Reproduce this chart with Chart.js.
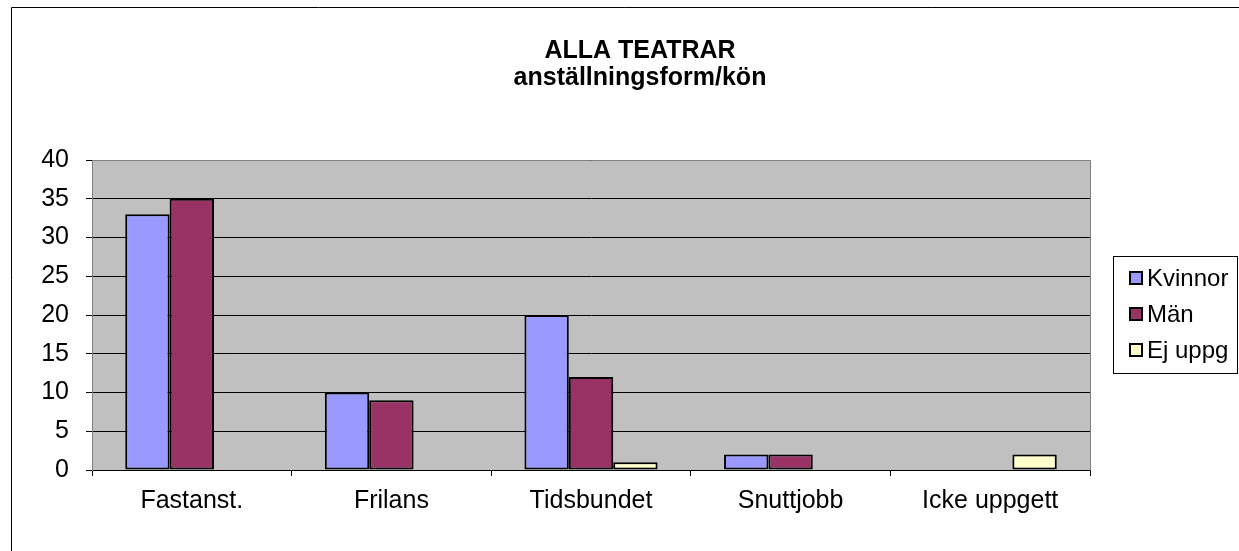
<!DOCTYPE html>
<html>
<head>
<meta charset="utf-8">
<script src="https://cdn.jsdelivr.net/npm/chart.js@4.4.1/dist/chart.umd.min.js"></script>
<style>
  html, body { margin: 0; padding: 0; background: #ffffff; }
  #wrap { position: relative; width: 1239px; height: 551px; }
</style>
</head>
<body>
<div id="wrap"><canvas id="c" width="1239" height="551"></canvas></div>
<script>
const categories = ['Fastanst.', 'Frilans', 'Tidsbundet', 'Snuttjobb', 'Icke uppgett'];
const kvinnor = [33, 10, 20, 2, null];
const man = [35, 9, 12, 2, null];
const ejUppg = [null, null, 1, null, 2];
const seriesNames = ['Kvinnor', 'Män', 'Ej uppg'];
const seriesColors = ['#9999FF', '#993366', '#FFFFCC'];
const yTicks = [0, 5, 10, 15, 20, 25, 30, 35, 40];
const titleLines = ['ALLA TEATRAR', 'anställningsform/kön'];

const FONT = "Arial, 'Liberation Sans', sans-serif";

const decor = {
  id: 'decor',
  beforeDraw(chart) {
    const { ctx, chartArea: a } = chart;
    ctx.save();
    ctx.fillStyle = '#ffffff';
    ctx.fillRect(0, 0, chart.width, chart.height);
    ctx.fillStyle = '#C0C0C0';
    ctx.fillRect(a.left, a.top, a.right - a.left, a.bottom - a.top);
    ctx.restore();
  },
  afterDraw(chart) {
    const { ctx, chartArea: a } = chart;
    ctx.save();
    // plot area border (top/right)
    ctx.strokeStyle = '#808080';
    ctx.lineWidth = 1;
    ctx.beginPath();
    ctx.moveTo(Math.round(a.left) + 0.5, Math.round(a.top) + 0.5);
    ctx.lineTo(Math.round(a.right) + 0.5, Math.round(a.top) + 0.5);
    ctx.lineTo(Math.round(a.right) + 0.5, Math.round(a.bottom) + 0.5);
    ctx.stroke();
    // outer frame
    ctx.strokeStyle = '#000000';
    ctx.beginPath();
    ctx.moveTo(11.5, chart.height);
    ctx.lineTo(11.5, 7.5);
    ctx.lineTo(chart.width, 7.5);
    ctx.stroke();
    // title
    ctx.fillStyle = '#000000';
    ctx.font = 'bold 25px ' + FONT;
    ctx.textAlign = 'center';
    ctx.textBaseline = 'alphabetic';
    ctx.fillText(titleLines[0], 640, 58);
    ctx.fillText(titleLines[1], 640, 85);
    // legend
    const lx = 1113, ly = 256, lw = 124, lh = 117;
    ctx.strokeStyle = '#000000';
    ctx.strokeRect(lx + 0.5, ly + 0.5, lw, lh);
    ctx.font = '24px ' + FONT;
    ctx.textAlign = 'left';
    ctx.textBaseline = 'middle';
    chart.data.datasets.forEach((ds, i) => {
      const cy = 278 + i * 36;
      ctx.fillStyle = ds.backgroundColor;
      ctx.fillRect(1130, cy - 6, 12, 12);
      ctx.strokeStyle = '#000000';
      ctx.lineWidth = 2;
      ctx.strokeRect(1130, cy - 6, 12, 12);
      ctx.lineWidth = 1;
      ctx.fillStyle = '#000000';
      ctx.fillText(ds.label, 1147, cy + 1);
    });
    ctx.restore();
  }
};

new Chart(document.getElementById('c'), {
  type: 'bar',
  data: {
    labels: categories,
    datasets: [
      { label: seriesNames[0], data: kvinnor, backgroundColor: seriesColors[0] },
      { label: seriesNames[1], data: man, backgroundColor: seriesColors[1] },
      { label: seriesNames[2], data: ejUppg, backgroundColor: seriesColors[2] }
    ].map(d => Object.assign(d, { borderColor: '#000000', borderWidth: 2, borderSkipped: false, categoryPercentage: 0.667, barPercentage: 1.0 }))
  },
  options: {
    responsive: false,
    animation: false,
    devicePixelRatio: 1,
    layout: { padding: { left: 0, top: 160, right: 149, bottom: 0 } },
    plugins: { legend: { display: false }, title: { display: false }, tooltip: { enabled: false } },
    scales: {
      x: {
        grid: { display: true, drawOnChartArea: false, drawTicks: true, tickLength: 6, color: '#000000', offset: true },
        border: { display: true, color: '#000000', width: 1 },
        ticks: { color: '#000000', font: { family: FONT, size: 25 }, padding: 10, maxRotation: 0, autoSkip: false },
        afterFit(s) { s.height = 81; }
      },
      y: {
        min: 0, max: 40,
        afterBuildTicks(s) { s.ticks = yTicks.map(v => ({ value: v })); },
        grid: { color: '#000000', lineWidth: 1, drawTicks: true, tickLength: 6 },
        border: { display: true, color: '#808080', width: 1 },
        ticks: { color: '#000000', font: { family: FONT, size: 25 }, padding: 17 },
        afterFit(s) { s.width = 92; }
      }
    }
  },
  plugins: [decor]
});
</script>
</body>
</html>
